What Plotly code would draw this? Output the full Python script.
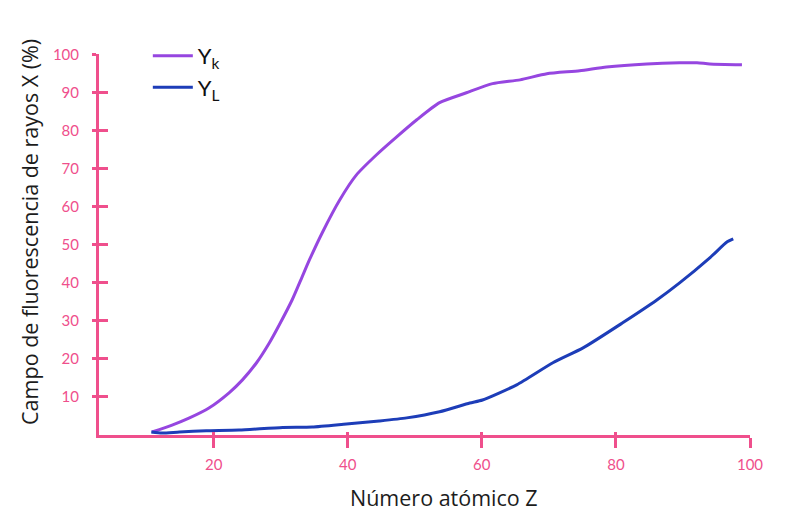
import plotly.graph_objects as go

# Fluorescence yield (%) versus atomic number Z
z_k = [10.8, 13.8, 16.4, 19.3, 22.3, 24.3, 26.4, 28.3, 29.8, 31.7, 33.2, 34.3,
       36.2, 38.8, 41.3, 44.3, 47.3, 50.3, 53.7, 57.7, 61.6, 65.7, 69.7, 74.6,
       78.6, 84.6, 89.5, 92.1, 94.0, 98.8]
y_k = [0.8, 2.6, 4.5, 7.1, 11.1, 14.5, 19.0, 24.2, 29.0, 35.5, 41.6, 46.1,
       53.2, 61.8, 68.4, 73.7, 78.4, 82.9, 87.4, 90.0, 92.4, 93.4, 95.0, 95.8,
       96.8, 97.6, 97.9, 97.9, 97.6, 97.4]

z_l = [10.7, 12.3, 14.9, 18.9, 23.8, 30.3, 34.7, 39.8, 44.7, 48.8, 53.7, 58.2,
       60.1, 65.2, 70.6, 75.1, 81.0, 86.1, 89.5, 94.0, 96.6, 97.5]
y_l = [0.8, 0.5, 0.8, 1.1, 1.3, 2.0, 2.1, 2.9, 3.7, 4.5, 6.1, 8.4,
       9.2, 13.2, 19.0, 22.9, 29.5, 35.5, 40.0, 46.6, 50.8, 51.6]

x_ticks = [20, 40, 60, 80, 100]
y_ticks = [10, 20, 30, 40, 50, 60, 70, 80, 90, 100]

PINK = "#ef4f8c"
PURPLE = "#9646e0"
BLUE = "#1d3db8"
X_RANGE = [2.9, 100]
Y_RANGE = [0, 100.2]

fig = go.Figure()
fig.add_trace(go.Scatter(x=z_k, y=y_k, mode="lines", name="Y<sub>k</sub>",
                         line=dict(color=PURPLE, width=3, shape="spline", smoothing=0.6)))
# second pair of axes shares the same ranges; it carries the inner half of each tick
fig.add_trace(go.Scatter(x=z_l, y=y_l, mode="lines", name="Y<sub>L</sub>",
                         xaxis="x2", yaxis="y2",
                         line=dict(color=BLUE, width=3, shape="spline", smoothing=0.6)))

tick_font = dict(family="Lato", size=15, color=PINK)
title_font = dict(family="Open Sans", size=21.5, color="#1c1c1c")

fig.update_layout(
    width=787, height=523,
    margin=dict(l=99, r=37, t=54, b=88),
    paper_bgcolor="white", plot_bgcolor="white",
    showlegend=True,
    legend=dict(x=0.075, y=1.05, xanchor="left", yanchor="top",
                bgcolor="rgba(0,0,0,0)", font=dict(family="Lato", size=22, color="#111"),
                tracegroupgap=0, itemwidth=40),
    xaxis=dict(range=X_RANGE, tickvals=x_ticks, ticks="outside", ticklen=10, tickwidth=3,
               tickcolor=PINK, showline=True, linecolor=PINK, linewidth=3,
               showgrid=False, zeroline=False, tickfont=tick_font, ticklabelstandoff=4),
    yaxis=dict(range=Y_RANGE, tickvals=y_ticks, ticks="outside", ticklen=4, tickwidth=3,
               tickcolor=PINK, showline=True, linecolor=PINK, linewidth=3,
               showgrid=False, zeroline=False, tickfont=tick_font, ticklabelstandoff=10),
    xaxis2=dict(range=X_RANGE, overlaying="x", tickvals=x_ticks, ticks="inside", ticklen=3,
                tickwidth=3, tickcolor=PINK, showticklabels=False, showgrid=False,
                zeroline=False, side="bottom"),
    yaxis2=dict(range=Y_RANGE, overlaying="y", tickvals=y_ticks, ticks="inside", ticklen=9,
                tickwidth=3, tickcolor=PINK, showticklabels=False, showgrid=False,
                zeroline=False, side="left"),
    annotations=[
        dict(text="Número atómico Z", xref="paper", yref="paper", x=0.53, y=-0.165,
             xanchor="center", yanchor="middle", showarrow=False, font=title_font),
        dict(text="Campo de fluorescencia de rayos X (%)", xref="paper", yref="paper",
             x=-0.106, y=0.533, xanchor="center", yanchor="middle", showarrow=False,
             textangle=-90, font=title_font),
    ],
)

fig.write_html("out.html")
